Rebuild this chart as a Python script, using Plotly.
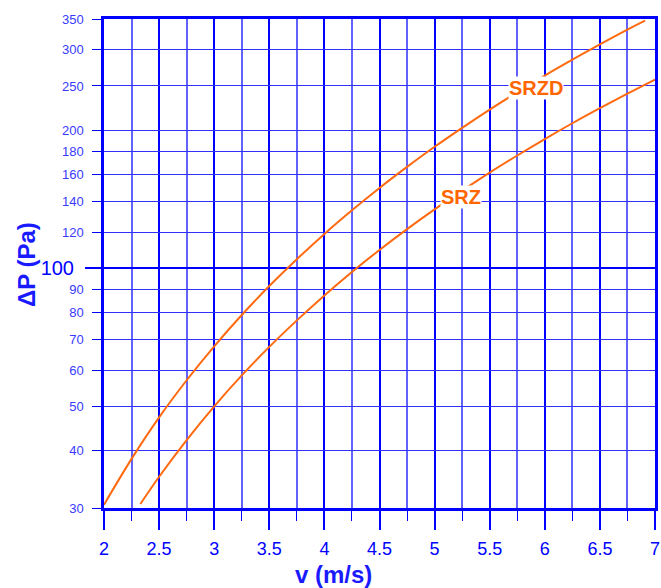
import plotly.graph_objects as go
import numpy as np

# SRZD curve
v_srzd = [2.0, 2.25, 2.5, 2.75, 3.0, 3.25, 3.5, 3.75, 4.0, 4.25, 4.5, 4.75, 5.0,
          5.25, 5.5, 5.75, 6.0, 6.25, 6.5, 6.75, 6.91]
dp_srzd = [30.5, 38.4, 47.3, 57.0, 67.6, 79.1, 91.5, 104.7, 118.9, 133.9, 149.8, 166.5,
           184.2, 202.6, 222.0, 242.2, 263.4, 285.3, 308.1, 331.8, 347.0]

# SRZ curve
v_srz = [2.33, 2.5, 2.75, 3.0, 3.25, 3.5, 3.75, 4.0, 4.25, 4.5, 4.75, 5.0, 5.25,
         5.5, 5.75, 6.0, 6.25, 6.5, 6.75, 7.0]
dp_srz = [30.6, 35.1, 42.2, 50.0, 58.4, 67.4, 77.0, 87.3, 98.2, 109.7, 121.8, 134.5,
          147.8, 161.8, 176.3, 191.5, 207.3, 223.6, 240.5, 258.1]

y_ticks = [30, 40, 50, 60, 70, 80, 90, 120, 140, 160, 180, 200, 250, 300, 350]
x_ticks = [2, 2.5, 3, 3.5, 4, 4.5, 5, 5.5, 6, 6.5, 7]
x_tick_labels = ["2", "2.5", "3", "3.5", "4", "4.5", "5", "5.5", "6", "6.5", "7"]

BLUE = "#0000ff"
LBLUE = "#3a3aff"
ORANGE = "#ff6a10"
FONT = "Liberation Sans, Arial, sans-serif"

W, H = 661, 588
L, R, T, B = 104, 6, 19, 80
pw, ph = W - L - R, H - T - B

yr = [np.log10(30), np.log10(350)]

fig = go.Figure()
fig.add_trace(go.Scatter(x=v_srzd, y=dp_srzd, mode="lines", line=dict(color=ORANGE, width=2),
                         line_shape="spline", showlegend=False, hoverinfo="skip"))
fig.add_trace(go.Scatter(x=v_srz, y=dp_srz, mode="lines", line=dict(color=ORANGE, width=2),
                         line_shape="spline", showlegend=False, hoverinfo="skip"))
# invisible trace for the secondary (100) axis
fig.add_trace(go.Scatter(x=[2], y=[100], yaxis="y2", mode="markers", marker=dict(opacity=0),
                         showlegend=False, hoverinfo="skip"))

fig.update_layout(
    width=W, height=H,
    margin=dict(l=L, r=R, t=T, b=B, autoexpand=False),
    paper_bgcolor="white", plot_bgcolor="white",
    font=dict(family=FONT, color=LBLUE),
    xaxis=dict(
        range=[2, 7], tickvals=x_ticks, ticktext=x_tick_labels, automargin=False,
        showgrid=True, gridcolor=BLUE, gridwidth=2,
        ticks="outside", ticklen=19, tickwidth=2, tickcolor=BLUE,
        tickfont=dict(size=18, color=BLUE, family=FONT), ticklabelstandoff=4,
        showline=True, linecolor=BLUE, linewidth=2.5, mirror=True,
        zeroline=False,
        minor=dict(dtick=0.25, tick0=2, showgrid=True, gridcolor="#6262ff", gridwidth=1.5,
                   ticks="outside", ticklen=10, tickwidth=1.3, tickcolor=BLUE),
    ),
    yaxis=dict(
        type="log", range=yr, tickvals=y_ticks, ticktext=[str(t) for t in y_ticks],
        automargin=False,
        showgrid=True, gridcolor="#3030ff", gridwidth=1.3,
        ticks="outside", ticklen=9, tickwidth=1.3, tickcolor=BLUE,
        tickfont=dict(size=13, color=LBLUE, family=FONT), ticklabelstandoff=6,
        showline=True, linecolor=BLUE, linewidth=2.5, mirror=True,
        zeroline=False,
    ),
    yaxis2=dict(
        type="log", range=yr, overlaying="y", side="left", tickvals=[100], ticktext=["100"],
        automargin=False,
        showgrid=True, gridcolor=BLUE, gridwidth=2.2,
        ticks="outside", ticklen=18, tickwidth=2.2, tickcolor=BLUE,
        tickfont=dict(size=20, color=BLUE, family=FONT), ticklabelstandoff=7,
        showline=False, zeroline=False,
    ),
    annotations=[
        dict(x=5.916, y=np.log10(247.6), xref="x", yref="y", text="<b>SRZD</b>", showarrow=False,
             font=dict(size=20, color="#ff6600", family=FONT), bgcolor="white", borderpad=0),
        dict(x=5.24, y=np.log10(143.4), xref="x", yref="y", text="<b>SRZ</b>", showarrow=False,
             font=dict(size=20, color="#ff6600", family=FONT), bgcolor="white", borderpad=0),
        dict(x=(333 - L) / pw, y=(H - B - 574) / ph, xref="paper", yref="paper",
             xanchor="center", yanchor="middle",
             text="<b>v (m/s)</b>", showarrow=False,
             font=dict(size=24, color="#1a1aff", family=FONT)),
        dict(x=(26 - L) / pw, y=(H - B - 265) / ph, xref="paper", yref="paper",
             xanchor="center", yanchor="middle",
             text="<b>ΔP (Pa)</b>", showarrow=False, textangle=-90,
             font=dict(size=24, color="#1a1aff", family=FONT)),
    ],
)

fig.write_html("out.html", config={"displayModeBar": False},
               post_script="document.body.style.margin='0';document.body.style.padding='0';")
